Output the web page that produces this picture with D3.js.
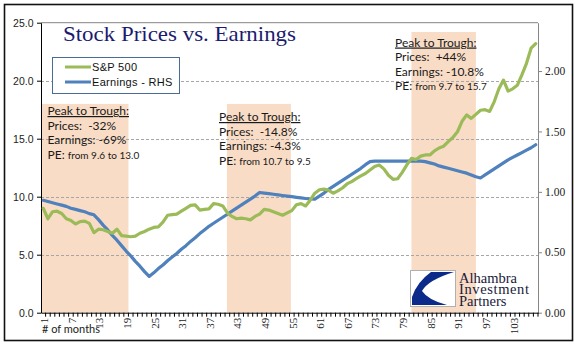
<!DOCTYPE html>
<html>
<head>
  <meta charset="utf-8">
  <script src="https://d3js.org/d3.v7.min.js"></script>
  <style>
  body{ margin:0; background:#fff; }
  svg{ display:block; }
  .note text{ font-family:Lato, "Open Sans", sans-serif; fill:#1a1a1a; white-space:pre; }
  .grid line{ stroke:#a6a6a6; stroke-dasharray:3,2; shape-rendering:crispEdges; }
  </style>
</head>
<body>
<svg width="575" height="361"></svg>
<script>
// months on the category axis
var months = d3.range(1, 109);

// S&P 500 (left axis)
var sp500 = [9.0, 8.1, 8.7, 8.75, 8.55, 8.1, 7.95, 7.65, 7.85, 7.9,
  7.7, 6.9, 7.2, 7.15, 7.0, 6.85, 7.2, 6.65, 6.6, 6.55,
  6.6, 6.85, 7.0, 7.2, 7.35, 7.4, 7.8, 8.4, 8.45, 8.5,
  8.75, 9.0, 9.25, 9.3, 8.85, 8.9, 8.95, 9.4, 9.35, 9.2,
  8.6, 8.3, 8.1, 8.15, 8.1, 8.0, 8.3, 8.5, 8.9, 8.85,
  8.7, 8.55, 8.4, 8.6, 8.8, 9.3, 9.4, 9.2, 9.7, 10.3,
  10.6, 10.65, 10.55, 10.3, 10.5, 10.75, 11.1, 11.3, 11.55, 11.8,
  12.0, 12.3, 12.6, 12.73, 12.4, 11.85, 11.5, 11.55, 12.1, 12.75,
  13.3, 13.2, 13.5, 13.6, 13.6, 13.95, 14.2, 14.35, 14.75, 15.1,
  15.6, 16.5, 17.05, 16.75, 17.1, 17.45, 17.5, 17.35, 18.2, 19.3,
  20.05, 19.1, 19.3, 19.6, 20.5, 21.5, 22.8, 23.2];

// Earnings (right axis)
var earnings = [0.93, 0.92, 0.91, 0.90, 0.89, 0.88, 0.865, 0.855, 0.845, 0.835, 0.82, 0.81,
  0.77, 0.725, 0.685, 0.64, 0.60, 0.555, 0.51, 0.47, 0.425, 0.385, 0.34, 0.30,
  0.33, 0.365, 0.395, 0.43, 0.46, 0.49, 0.525, 0.555, 0.59, 0.62, 0.655, 0.685,
  0.715, 0.74, 0.765, 0.79, 0.815, 0.84, 0.865, 0.89, 0.915, 0.94, 0.965, 0.995,
  0.99, 0.985, 0.98, 0.975, 0.97, 0.965, 0.96, 0.955, 0.95, 0.945, 0.942, 0.94,
  0.965, 0.99, 1.02, 1.045, 1.07, 1.095, 1.12, 1.145, 1.17, 1.195, 1.225, 1.25,
  1.255, 1.255, 1.255, 1.255, 1.255, 1.255, 1.255, 1.255, 1.255, 1.255, 1.255, 1.25,
  1.24, 1.23, 1.215, 1.205, 1.195, 1.185, 1.175, 1.165, 1.155, 1.14, 1.125, 1.115,
  1.14, 1.165, 1.19, 1.215, 1.24, 1.265, 1.285, 1.305, 1.325, 1.345, 1.365, 1.39];

// shaded peak-to-trough periods (in month units, edges)
var shadeStart = [0.5, 40.9, 81.0];
var shadeEnd = [19.5, 54.8, 95.0];
var shadeTop = [18, 18, 24.2];

var leftTicks = [0, 5, 10, 15, 20, 25];
var rightTicks = [0, 0.5, 1, 1.5, 2];

var notes = [
  {x:47.5, y:115, prices:"-32%", earn:"-69%", pe:"from 9.6 to 13.0"},
  {x:219, y:121, prices:"-14.8%", earn:"-4.3%", pe:"from 10.7 to 9.5"},
  {x:395, y:46.5, prices:"+44%", earn:"-10.8%", pe:"from 9.7 to 15.7"}
];

var svg = d3.select("svg");
var plotL = 41, plotR = 538, plotT = 22.7, plotB = 312.7;

var x = d3.scaleBand().domain(months).range([plotL, plotR]).padding(0);
var xm = d3.scaleLinear().domain([0.5, months.length + 0.5]).range([plotL, plotR]);
var yL = d3.scaleLinear().domain([0, 25]).range([plotB, plotT]);
var yR = d3.scaleLinear().domain([0, 2.4]).range([plotB, plotT]);
var bw = x.bandwidth();

// outer frame
svg.append("rect").attr("x", 4.5).attr("y", 4.5).attr("width", 568).attr("height", 336)
  .attr("fill", "#fff").attr("stroke", "#111").attr("stroke-width", 1.6);

// shading
svg.selectAll(".shade").data(shadeStart).enter().append("rect")
  .attr("class", "shade")
  .attr("x", function(d){ return xm(d); })
  .attr("width", function(d, i){ return xm(shadeEnd[i]) - xm(d); })
  .attr("y", function(d, i){ return yL(shadeTop[i]); })
  .attr("height", function(d, i){ return plotB - yL(shadeTop[i]); })
  .attr("fill", "#f9dcc5");

// gridlines
svg.append("g").attr("class", "grid")
  .selectAll("line").data([5, 10, 15, 20]).enter().append("line")
  .attr("x1", plotL).attr("x2", plotR)
  .attr("y1", function(d){ return Math.round(yL(d)) + 0.5; })
  .attr("y2", function(d){ return Math.round(yL(d)) + 0.5; });

// plot border top
svg.append("line").attr("x1", plotL).attr("x2", plotR).attr("y1", plotT).attr("y2", plotT)
  .attr("stroke", "#868686");

// left axis
var gl = svg.append("g").attr("transform", "translate(" + plotL + ",0)")
  .call(d3.axisLeft(yL).tickValues(leftTicks).tickFormat(d3.format(".1f")).tickSize(4).tickSizeOuter(0));
gl.select(".domain").attr("stroke", "#000");
gl.selectAll("text").attr("font-family", "Liberation Sans, Arial, sans-serif").attr("font-size", "10.5px")
  .attr("fill", "#222").attr("x", -7.5);

// right axis
var gr = svg.append("g").attr("transform", "translate(" + plotR + ",0)")
  .call(d3.axisRight(yR).tickValues(rightTicks).tickFormat(d3.format(".2f")).tickSize(4).tickSizeOuter(0));
gr.select(".domain").attr("stroke", "#868686");
gr.selectAll("line").attr("stroke", "#868686");
gr.selectAll("text").attr("font-family", "Liberation Serif, Times New Roman, serif").attr("font-size", "11.5px")
  .attr("fill", "#222").attr("x", 7);

// bottom axis
var gb = svg.append("g").attr("transform", "translate(0," + plotB + ")")
  .call(d3.axisBottom(x).tickSize(4).tickSizeOuter(0)
    .tickFormat(function(d){ return (d - 1) % 6 === 0 ? d : ""; }));
gb.select(".domain").attr("stroke", "#000");
gb.selectAll(".tick line").attr("transform", "translate(" + (bw / 2) + ",0)");
gb.selectAll("text")
  .attr("font-family", "Liberation Serif, Times New Roman, serif").attr("font-size", "11px").attr("fill", "#222")
  .attr("transform", "rotate(-90)")
  .attr("text-anchor", "end")
  .attr("x", -5).attr("y", 1).attr("dy", "0.35em");

svg.append("text").attr("x", 42).attr("y", 333)
  .attr("font-family", "Lato, sans-serif").attr("font-size", "11px").attr("fill", "#222")
  .text("# of months");

// lines
var spLine = d3.line()
  .x(function(d, i){ return x(months[i]) + bw / 2; })
  .y(function(d){ return yL(d); });
var earnLine = d3.line()
  .x(function(d, i){ return x(months[i]) + bw / 2; })
  .y(function(d){ return yR(d); });

svg.append("path").datum(earnings).attr("d", earnLine)
  .attr("fill", "none").attr("stroke", "#4f81bd").attr("stroke-width", 3.2)
  .attr("stroke-linejoin", "round").attr("stroke-linecap", "round");
svg.append("path").datum(sp500).attr("d", spLine)
  .attr("fill", "none").attr("stroke", "#9bbb59").attr("stroke-width", 3.2)
  .attr("stroke-linejoin", "round").attr("stroke-linecap", "round");

// title
svg.append("text").attr("x", 63).attr("y", 40.5)
  .attr("font-family", "Liberation Serif, Times New Roman, serif").attr("font-size", "22px")
  .attr("fill", "#1b1b70").attr("textLength", 233).attr("lengthAdjust", "spacingAndGlyphs")
  .text("Stock Prices vs. Earnings");

// legend
var lg = svg.append("g");
lg.append("rect").attr("x", 52.5).attr("y", 57.5).attr("width", 127).attr("height", 36)
  .attr("fill", "#fff").attr("stroke", "#4a6b9a");
[["S&P 500", "#9bbb59", 67], ["Earnings - RHS", "#4f81bd", 82]].forEach(function(e){
  lg.append("line").attr("x1", 65).attr("x2", 91).attr("y1", e[2]).attr("y2", e[2])
    .attr("stroke", e[1]).attr("stroke-width", 3);
  lg.append("text").attr("x", 92).attr("y", e[2] + 4)
    .attr("font-family", "Liberation Sans, Arial, sans-serif").attr("font-size", "11px")
    .attr("fill", "#111").attr("letter-spacing", "0.3px").text(e[0]);
});

// notes
var ng = svg.append("g").attr("class", "note");
notes.forEach(function(n){
  ng.append("text").attr("x", n.x).attr("y", n.y).attr("font-size", "12px")
    .style("text-decoration", "underline").text("Peak to Trough:");
  ng.append("text").attr("x", n.x).attr("y", n.y + 14.5).attr("font-size", "12px")
    .text("Prices:  " + n.prices);
  ng.append("text").attr("x", n.x).attr("y", n.y + 29).attr("font-size", "12px")
    .text("Earnings: " + n.earn);
  var t = ng.append("text").attr("x", n.x).attr("y", n.y + 43.5).attr("font-size", "12px");
  t.append("tspan").text("PE: ");
  t.append("tspan").attr("font-size", "10px").text(n.pe);
});

// logo
var logo = svg.append("g");
logo.append("rect").attr("x", 410.5).attr("y", 270.5).attr("width", 45).attr("height", 36)
  .attr("fill", "#fff").attr("stroke", "#b0b0b0");
logo.append("path")
  .attr("d", "M431,272 L454,272 Q428,280 422,291 Q428,300 447,305 L412,305 L412,297 Q417,282 431,272 Z")
  .attr("fill", "#0c2a8a");
["Alhambra", "Investment", "Partners"].forEach(function(s, i){
  logo.append("text").attr("x", 459).attr("y", 282.5 + i * 11.6)
    .attr("font-family", "Liberation Serif, Times New Roman, serif").attr("font-size", "14.5px")
    .attr("fill", "#1a1a3a").attr("textLength", s === "Investment" ? 70 : null)
    .text(s);
});
</script>
</body>
</html>
